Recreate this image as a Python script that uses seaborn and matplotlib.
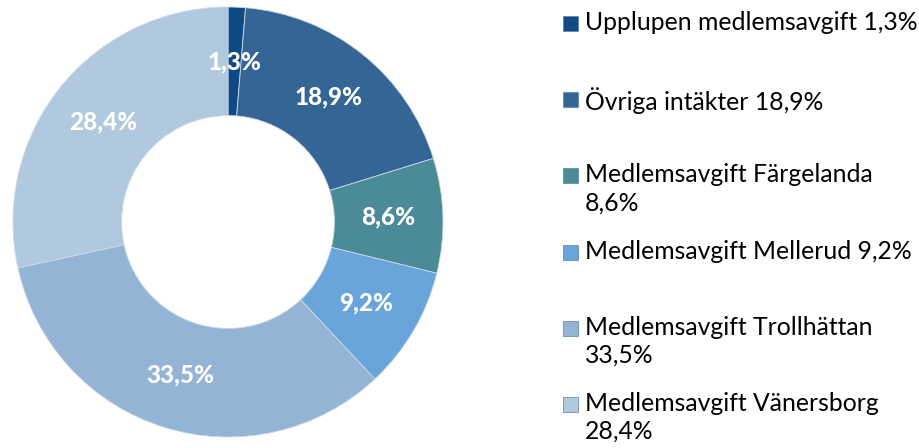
import seaborn as sns
import matplotlib.pyplot as plt
from matplotlib.patches import Rectangle

# Data
categories = ['Upplupen medlemsavgift', 'Övriga intäkter', 'Medlemsavgift Färgelanda',
              'Medlemsavgift Mellerud', 'Medlemsavgift Trollhättan', 'Medlemsavgift Vänersborg']
shares = [1.3, 18.9, 8.6, 9.2, 33.5, 28.4]
legend_labels = ['Upplupen medlemsavgift 1,3%', 'Övriga intäkter 18,9%',
                 'Medlemsavgift Färgelanda\n8,6%', 'Medlemsavgift Mellerud 9,2%',
                 'Medlemsavgift Trollhättan\n33,5%', 'Medlemsavgift Vänersborg\n28,4%']
colors = ['#0f4a87', '#346594', '#4b8b97', '#69a5da', '#93b4d4', '#b1c9df']

sns.set_theme(style="white")
plt.rcParams['font.family'] = ['Lato', 'DejaVu Sans']

fig = plt.figure(figsize=(9.19, 4.48), dpi=100)
ax = fig.add_axes([13 / 919, 11 / 448, 430 / 919, 430 / 448])

wedges, texts = ax.pie(shares, colors=colors, startangle=90, counterclock=False, radius=1,
                       wedgeprops=dict(width=0.505, edgecolor='#c9d9ea', linewidth=0.6),
                       labels=[f"{v:.1f}".replace('.', ',') + '%' for v in shares],
                       labeldistance=0.745)
for t in texts:
    t.set_color('white')
    t.set_fontweight('black')
    t.set_fontsize(17.5)
    t.set_ha('center')
    t.set_va('center')
ax.set_xlim(-1, 1)
ax.set_ylim(-1, 1)
ax.set_aspect('equal')
ax.axis('off')

# Legend, laid out in equal slots like the original
slot_top = 24
slot_step = 76.2
for i, (lab, c) in enumerate(zip(legend_labels, colors)):
    y = slot_top + i * slot_step
    fig.patches.append(Rectangle((563 / 919, 1 - (y + 7) / 448), 15 / 919, 15 / 448,
                                 transform=fig.transFigure, facecolor=c,
                                 edgecolor='#5a7fa8', linewidth=0.5))
    fig.text(585 / 919, 1 - (y - 13) / 448, lab, fontsize=17.8, color='black',
             ha='left', va='top', linespacing=1.25)

plt.savefig('out.png', dpi=100)
